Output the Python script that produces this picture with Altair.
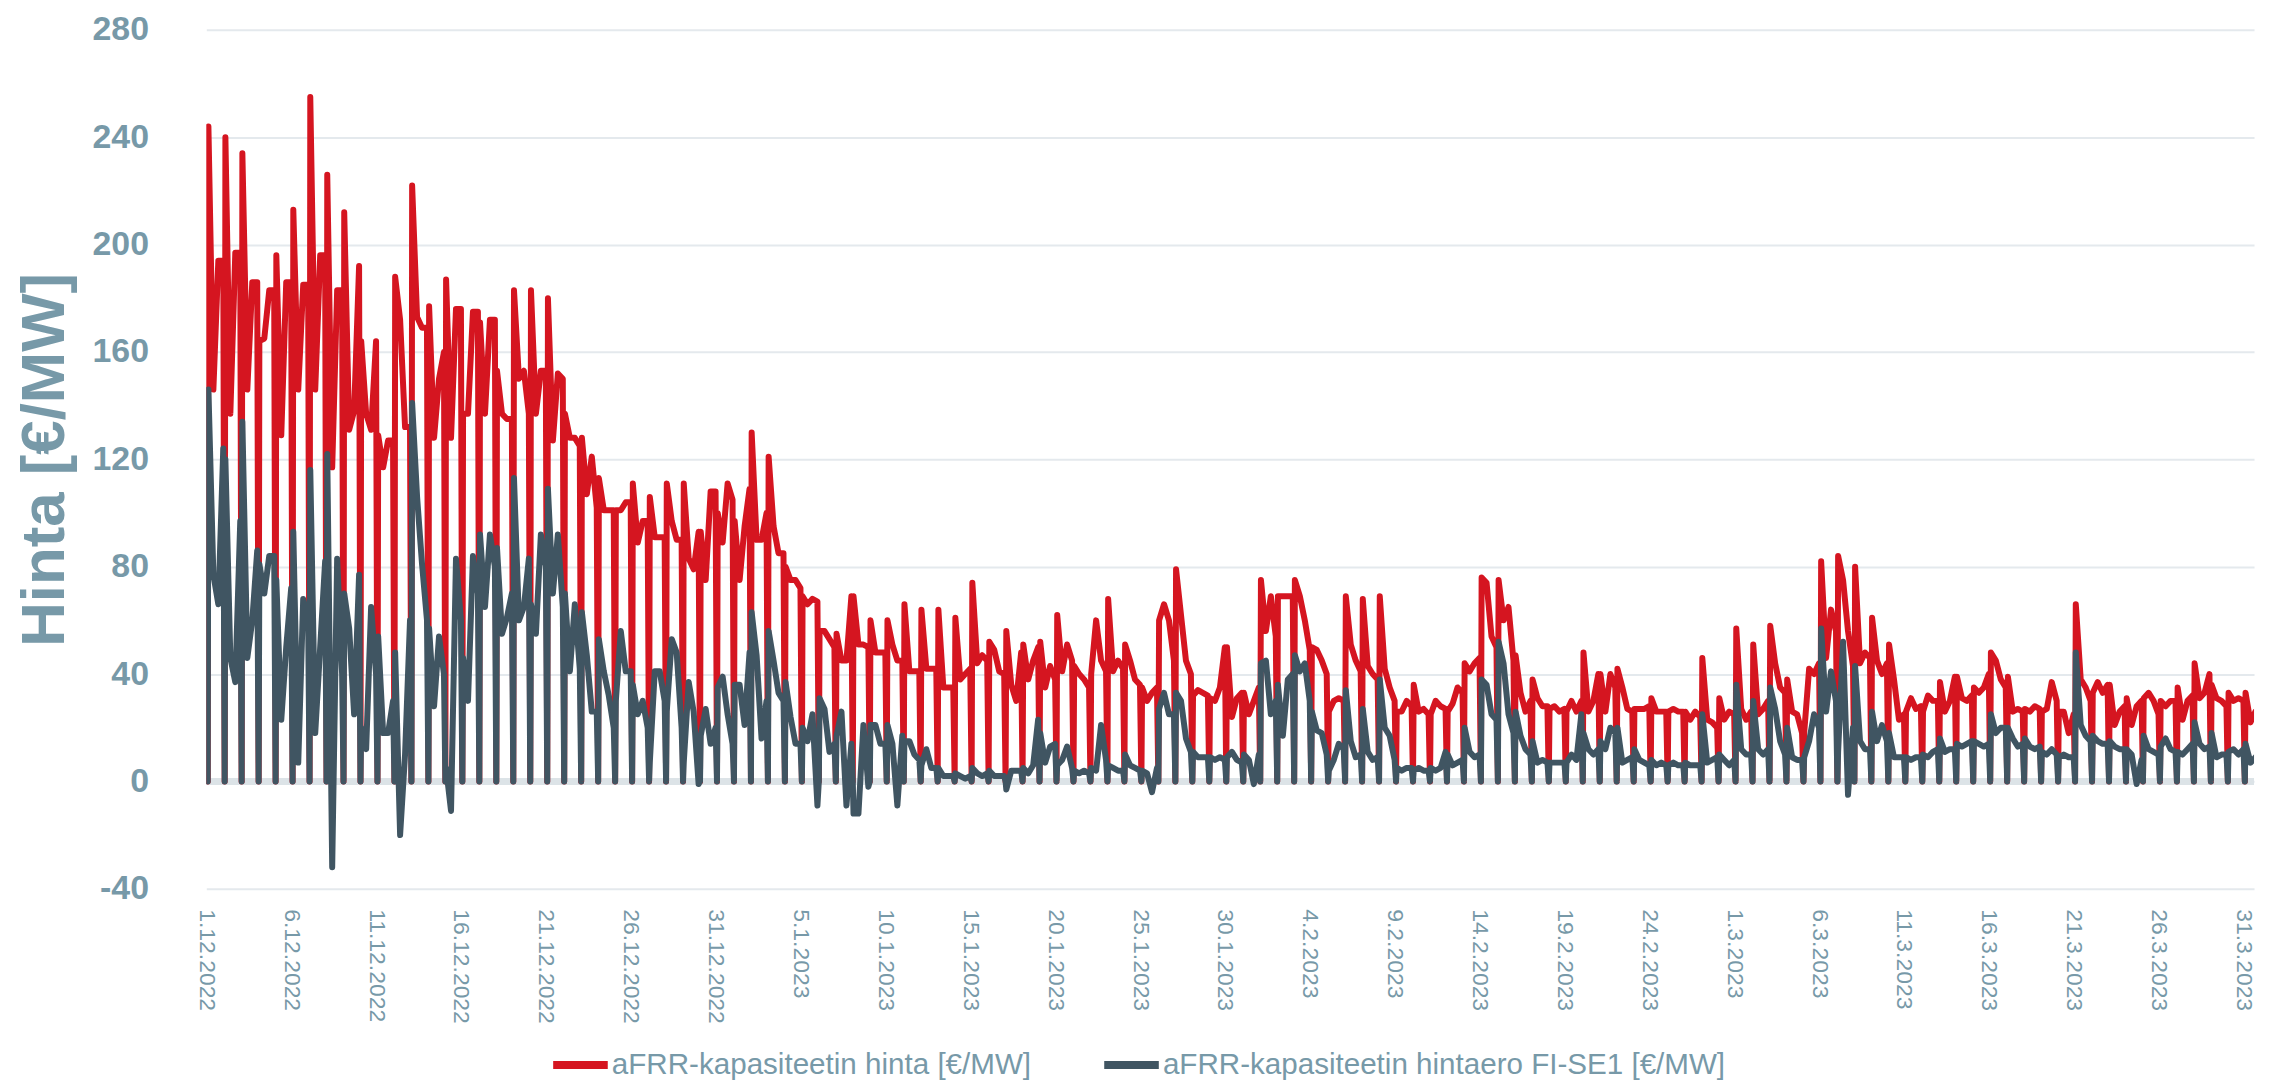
import datetime as dt
import altair as alt
import pandas as pd

RED_NAME = "aFRR-kapasiteetin hinta [€/MW]"
DARK_NAME = "aFRR-kapasiteetin hintaero FI-SE1 [€/MW]"
RED = "#d51520"
DARK = "#405562"
TXT = "#7799a8"

# Daily readings (value at 00h, 03h, 10h, 17h); every day also drops to 0 at 02h
RED_DEC = [
    (178, 244, 146, 194), (194, 240, 137, 197), (197, 234, 146, 186), (186, 164, 165, 183),
    (183, 196, 129, 186), (186, 213, 146, 185), (185, 255, 146, 196), (196, 226, 117, 183),
    (183, 212, 131, 138), (192, 164, 137, 131), (164, 129, 117, 127), (127, 188, 172, 132),
    (132, 222, 173, 169), (169, 177, 128, 150), (160, 187, 128, 176), (176, 137, 137, 175),
    (175, 171, 137, 172), (172, 153, 137, 135), (135, 183, 150, 153), (137, 183, 137, 153),
    (153, 180, 127, 152), (150, 137, 128, 128), (125, 128, 107, 121), (102, 113, 101, 101),
    (101, 101, 101, 104), (104, 111, 89, 97), (97, 106, 91, 91), (91, 111, 97, 90),
    (90, 111, 83, 79), (93, 93, 75, 108), (108, 100, 89, 111),
]
RED_JAN = [
    (105, 97, 75, 95), (109, 130, 90, 90), (100, 121, 95, 85), (85, 80, 75, 75),
    (72, 69, 66, 68), (67, 56, 56, 53), (50, 55, 45, 45), (69, 69, 51, 51),
    (50, 60, 48, 48), (48, 60, 51, 45), (45, 66, 41, 41), (41, 64, 42, 42),
    (42, 64, 35, 35), (35, 61, 38, 40), (42, 74, 44, 47), (45, 52, 49, 41),
    (40, 56, 36, 30), (48, 51, 38, 45), (50, 52, 35, 43), (38, 62, 41, 51),
    (45, 43, 40, 38), (35, 40, 60, 45), (41, 68, 41, 45), (42, 51, 45, 38),
    (36, 35, 30, 33), (35, 60, 66, 60), (45, 79, 62, 45), (40, 32, 34, 33),
    (32, 31, 30, 35), (50, 50, 24, 31), (33, 33, 25, 30),
]
RED_FEB = [
    (35, 75, 56, 69), (54, 69, 69, 69), (69, 75, 69, 60), (49, 50, 49, 45),
    (40, 26, 30, 31), (30, 69, 51, 45), (41, 68, 43, 40), (38, 69, 42, 35),
    (30, 26, 26, 30), (28, 36, 26, 27), (25, 25, 30, 28), (27, 26, 29, 35),
    (33, 44, 41, 44), (46, 76, 74, 54), (50, 75, 60, 65), (45, 47, 33, 26),
    (30, 38, 31, 28), (28, 27, 28, 26), (27, 26, 30, 26), (30, 48, 26, 30),
    (40, 40, 26, 40), (35, 42, 35, 27), (26, 27, 27, 27), (28, 31, 26, 26),
    (26, 26, 27, 26), (26, 26, 23, 26), (24, 46, 23, 22), (20, 31, 23, 26),
]
RED_MAR = [
    (25, 57, 27, 23), (26, 51, 25, 27), (30, 58, 44, 35), (33, 38, 26, 25),
    (18, 18, 42, 40), (44, 82, 46, 64), (56, 84, 75, 56), (43, 80, 44, 48),
    (46, 61, 45, 40), (44, 51, 38, 23), (25, 26, 31, 27), (28, 26, 32, 30),
    (30, 37, 26, 30), (39, 39, 31, 30), (32, 35, 33, 35), (40, 48, 45, 38),
    (35, 39, 26, 27), (26, 27, 26, 28), (27, 26, 27, 37), (30, 26, 26, 18),
    (25, 66, 38, 35), (30, 33, 37, 33), (36, 36, 21, 26), (28, 31, 21, 28),
    (30, 31, 33, 30), (25, 30, 28, 30), (30, 35, 23, 30), (32, 44, 31, 33),
    (40, 36, 31, 30), (28, 33, 30, 31), (30, 33, 22, 26),
]

DARK_DEC = [
    (108, 146, 77, 66), (124, 120, 46, 37), (97, 134, 46, 60), (86, 81, 70, 84),
    (84, 75, 23, 50), (72, 93, 7, 68), (60, 116, 18, 50), (82, 122, -32, 83),
    (40, 70, 57, 25), (77, 20, 12, 65), (40, 54, 18, 18), (30, 48, -20, 10),
    (60, 141, 106, 81), (60, 57, 28, 54), (40, 5, -11, 83), (60, 46, 30, 84),
    (70, 92, 65, 92), (80, 87, 55, 61), (70, 113, 60, 65), (83, 66, 55, 92),
    (80, 109, 70, 92), (65, 70, 41, 66), (42, 63, 47, 26), (26, 53, 41, 32),
    (20, 30, 56, 41), (41, 36, 25, 30), (20, 7, 41, 41), (30, 26, 53, 48),
    (20, 7, 37, 26), (-1, 17, 27, 14), (20, 35, 39, 25),
]
DARK_JAN = [
    (14, 36, 36, 21), (48, 63, 47, 16), (30, 56, 45, 33), (30, 37, 24, 14),
    (14, 20, 15, 25), (-9, 31, 27, 11), (14, 17, 26, -9), (14, -12, -12, 21),
    (-2, 21, 21, 14), (14, 21, 14, -9), (17, 15, 15, 10), (8, 6, 12, 5),
    (5, 5, 2, 2), (2, 3, 2, 1), (2, 5, 3, 2), (3, 4, 2, 2),
    (2, -3, 4, 4), (4, 5, 3, 6), (23, 18, 7, 13), (14, 6, 8, 13),
    (5, 4, 3, 4), (3, 5, 4, 21), (8, 6, 5, 4), (4, 10, 6, 5),
    (4, 4, 3, -4), (5, 27, 33, 25), (25, 33, 30, 16), (11, 11, 9, 9),
    (9, 9, 8, 9), (8, 9, 11, 8), (7, 10, 8, -1),
]
DARK_FEB = [
    (10, 44, 45, 25), (30, 36, 17, 38), (40, 47, 41, 44), (30, 26, 19, 18),
    (10, 4, 8, 14), (12, 34, 15, 9), (10, 27, 11, 8), (9, 38, 20, 17),
    (8, 5, 4, 5), (5, 4, 5, 4), (4, 5, 4, 5), (11, 10, 6, 7),
    (8, 20, 11, 9), (10, 38, 36, 25), (23, 52, 44, 25), (18, 26, 17, 12),
    (10, 15, 7, 8), (7, 7, 7, 7), (7, 7, 10, 8), (25, 18, 12, 10),
    (12, 15, 12, 20), (18, 20, 7, 8), (9, 12, 8, 7), (6, 8, 6, 7),
    (6, 6, 7, 6), (6, 7, 6, 6), (6, 25, 7, 8), (9, 10, 8, 6),
]
DARK_MAR = [
    (8, 36, 12, 10), (10, 30, 12, 10), (12, 35, 27, 15), (10, 20, 9, 8),
    (8, 9, 15, 25), (20, 57, 26, 41), (30, 11, 52, -5), (20, 43, 15, 12),
    (12, 26, 15, 21), (15, 18, 9, 9), (9, 9, 8, 9), (9, 10, 9, 11),
    (12, 16, 11, 12), (12, 14, 13, 14), (15, 15, 14, 13), (14, 25, 18, 20),
    (20, 20, 16, 13), (14, 16, 13, 12), (13, 11, 10, 12), (10, 9, 10, 9),
    (9, 48, 21, 17), (15, 17, 15, 14), (14, 15, 13, 12), (12, 12, 10, -1),
    (8, 17, 12, 11), (10, 13, 16, 12), (11, 11, 10, 12), (14, 22, 14, 12),
    (13, 18, 9, 10), (10, 11, 12, 10), (12, 14, 7, 9),
]

SAMPLE_HOURS = (0, 3, 10, 17)
DROP_HOUR = 2
DROP_VALUE = 0
START = dt.datetime(2022, 12, 1)
Y_TICKS = [-40, 0, 40, 80, 120, 160, 200, 240, 280]
X_TICK_DAYS = list(range(0, 121, 5))


def build(name, days):
    rows = []
    for i, vals in enumerate(days):
        day = START + dt.timedelta(days=i)
        pts = [(SAMPLE_HOURS[0], vals[0]), (DROP_HOUR, DROP_VALUE)] + list(zip(SAMPLE_HOURS[1:], vals[1:]))
        for h, v in pts:
            rows.append({"t": (day + dt.timedelta(hours=h)).strftime("%Y-%m-%dT%H:%M:%S"),
                         "v": v, "s": name})
    return pd.DataFrame(rows)


red_df = build(RED_NAME, RED_DEC + RED_JAN + RED_FEB + RED_MAR)
dark_df = build(DARK_NAME, DARK_DEC + DARK_JAN + DARK_FEB + DARK_MAR)

tick_dates = [START + dt.timedelta(days=d) for d in X_TICK_DAYS]
x_values = [alt.DateTime(year=t.year, month=t.month, date=t.day) for t in tick_dates]

x_enc = alt.X(
    "t:T",
    scale=alt.Scale(domain=[alt.DateTime(year=2022, month=12, date=1, hours=0),
                            alt.DateTime(year=2023, month=3, date=31, hours=15)]),
    axis=alt.Axis(values=x_values, format="%-d.%-m.%Y", labelAngle=90, labelAlign="left",
                  labelBaseline="middle", labelFontSize=23, labelColor=TXT,
                  labelFont="Liberation Sans", labelPadding=20, grid=False, ticks=False,
                  domain=False, title=None, labelOverlap=False, labelFlush=False),
)
y_enc = alt.Y(
    "v:Q",
    scale=alt.Scale(domain=[-40, 280], nice=False, zero=False),
    axis=alt.Axis(values=Y_TICKS, labelExpr="'' + datum.value", labelFontSize=34,
                  labelFontWeight="bold", labelColor=TXT,
                  labelFont="Liberation Sans", labelPadding=58, grid=True, gridColor="#e4e9ed",
                  gridWidth=2, ticks=False, domain=False, title="Hinta [€/MW]",
                  titleFontSize=62, titleFontWeight="bold", titleColor=TXT,
                  titleFont="Liberation Sans", titleAngle=270, titleX=-162, titleY=431,
                  titleAlign="center", titleBaseline="middle"),
)
color_enc = alt.Color(
    "s:N",
    scale=alt.Scale(domain=[RED_NAME, DARK_NAME], range=[RED, DARK]),
    legend=alt.Legend(orient="none", legendX=344, legendY=1007, direction="horizontal",
                      title=None, labelFontSize=29.7, labelColor=TXT, labelFont="Liberation Sans",
                      symbolType="stroke", symbolSize=3000, symbolStrokeWidth=8,
                      columnPadding=57, labelOffset=0, padding=0, labelLimit=1000),
)

zero = alt.Chart(pd.DataFrame({"v": [0]})).mark_rule(color="#dce3e7", strokeWidth=7).encode(
    y=alt.Y("v:Q", scale=alt.Scale(domain=[-40, 280], nice=False, zero=False)))

red_line = alt.Chart(red_df).mark_line(strokeWidth=6, clip=True, strokeJoin="round",
                                       strokeCap="round").encode(x=x_enc, y=y_enc, color=color_enc)
dark_line = alt.Chart(dark_df).mark_line(strokeWidth=6, clip=True, strokeJoin="round",
                                         strokeCap="round").encode(x=x_enc, y=y_enc, color=color_enc)

chart = alt.layer(zero, red_line, dark_line).properties(
    width=2055, height=862,
    autosize=alt.AutoSizeParams(type="none"),
    padding={"left": 199, "top": 20, "right": 8, "bottom": 192},
    background="white",
).configure_view(stroke=None)

chart.save("out.html", embed_options={"renderer": "svg", "actions": False})
